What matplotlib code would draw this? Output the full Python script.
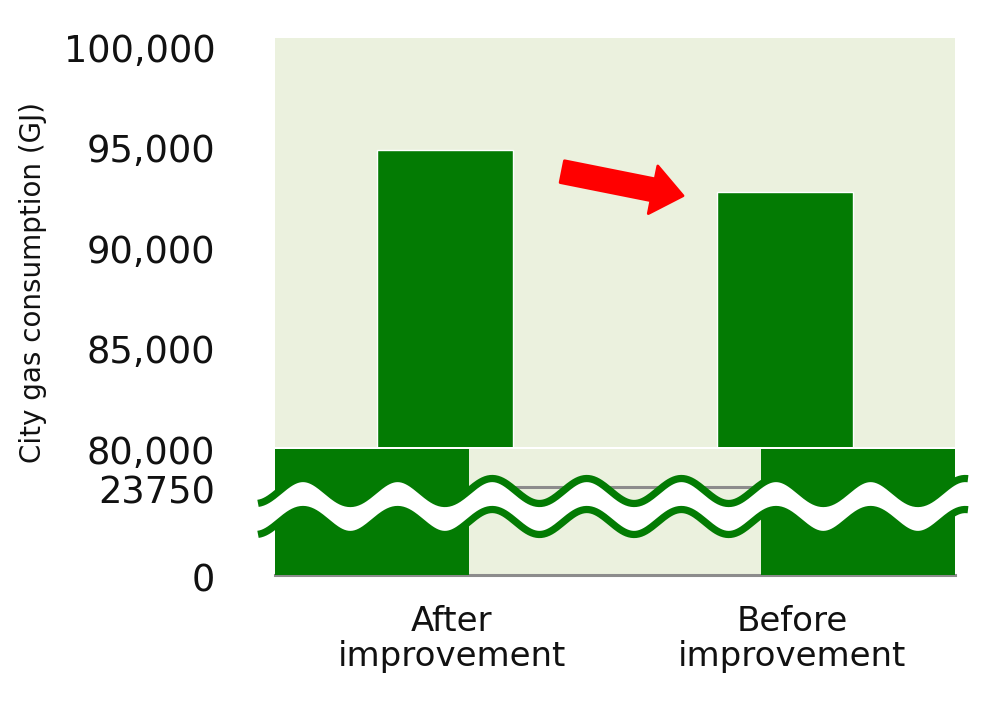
import numpy as np
import matplotlib
matplotlib.use("Agg")
import matplotlib.pyplot as plt
import matplotlib.transforms as mtransforms
from matplotlib.ticker import FuncFormatter

# data
categories = ["After\nimprovement", "Before\nimprovement"]
gas_gj = [94800, 92700]
upper_ticks = [80000, 85000, 90000, 95000, 100000]
lower_ticks = [0, 23750]
ylabel = "City gas consumption (GJ)"

BAR = "#037B03"
BG = "#EBF1DE"
GREY = "#8C8C8C"

W, H = 983, 724
fig = plt.figure(figsize=(W / 100, H / 100), dpi=100)


def fx(px):
    return px / W


def fy(py):
    return 1 - py / H


x = np.arange(len(categories))

# upper part of the broken axis
ax_top = fig.add_axes([fx(275), fy(447), fx(955) - fx(275), fy(38) - fy(447)])
ax_top.set_facecolor(BG)
ax_top.bar(x, gas_gj, width=0.4, color=BAR, edgecolor="white", linewidth=1, zorder=3)
ax_top.set_xlim(-0.5, 1.5)
ax_top.set_ylim(80000, 100350)
ax_top.set_yticks(upper_ticks)
ax_top.yaxis.set_major_formatter(FuncFormatter(lambda v, p: f"{int(v):,}"))
ax_top.set_xticks([])

# lower part
ax_bot = fig.add_axes([fx(275), fy(575), fx(955) - fx(275), fy(449) - fy(575)])
ax_bot.set_facecolor(BG)
ax_bot.bar(x, gas_gj, width=0.4, color=BAR, linewidth=0, zorder=3)
ax_bot.set_xlim(-0.2, 1.2)
ax_bot.set_ylim(0, 34000)
ax_bot.set_yticks(lower_ticks)
ax_bot.set_yticklabels([str(t) for t in lower_ticks])
ax_bot.set_xticks([])
for t in lower_ticks[1:]:
    ax_bot.axhline(t, color=GREY, lw=2.2, zorder=1)

for ax in (ax_top, ax_bot):
    for s in ax.spines.values():
        s.set_visible(False)
    ax.tick_params(axis="y", length=0, pad=43, labelsize=26.5, labelcolor="#111111")
    off = mtransforms.ScaledTranslation(0, -1.5 / 72, fig.dpi_scale_trans)
    for lab in ax.get_yticklabels():
        lab.set_transform(lab.get_transform() + off)
ax_bot.spines["bottom"].set_visible(True)
ax_bot.spines["bottom"].set_color(GREY)
ax_bot.spines["bottom"].set_linewidth(2.2)

# category labels under the chart
blend = mtransforms.blended_transform_factory(ax_top.transData, fig.transFigure)
for xi, lab in zip(x, categories):
    ax_top.text(xi + 0.02, fy(639), lab, transform=blend, ha="center", va="center",
                fontsize=24.5, linespacing=1.08, color="#111111")

fig.text(fx(33), fy(283), ylabel, rotation=90, ha="center", va="center",
         fontsize=20, color="#111111")

# red arrow between the two bars
ax_top.annotate("", xy=(0.70, 92500), xytext=(0.345, 93700),
                arrowprops=dict(arrowstyle="simple,head_width=3.5,head_length=2.2,tail_width=1.6",
                                mutation_scale=10, color="red", shrinkA=0, shrinkB=0,
                                joinstyle="round", lw=2))

# wavy break mark
wx = np.linspace(258, 968, 600)
w_up = 491 - 12.5 * np.cos(2 * np.pi * (wx - 303) / 94.6)
w_lo = w_up + 31
overlay = fig.add_axes([0, 0, 1, 1], facecolor="none")
overlay.set_xlim(0, W)
overlay.set_ylim(H, 0)
overlay.axis("off")
overlay.fill_between(wx, w_up, w_lo, color="white", lw=0)
overlay.plot(wx, w_up, color=BAR, lw=5.2, solid_capstyle="butt")
overlay.plot(wx, w_lo, color=BAR, lw=5.2, solid_capstyle="butt")

fig.savefig("out.png", dpi=100)
